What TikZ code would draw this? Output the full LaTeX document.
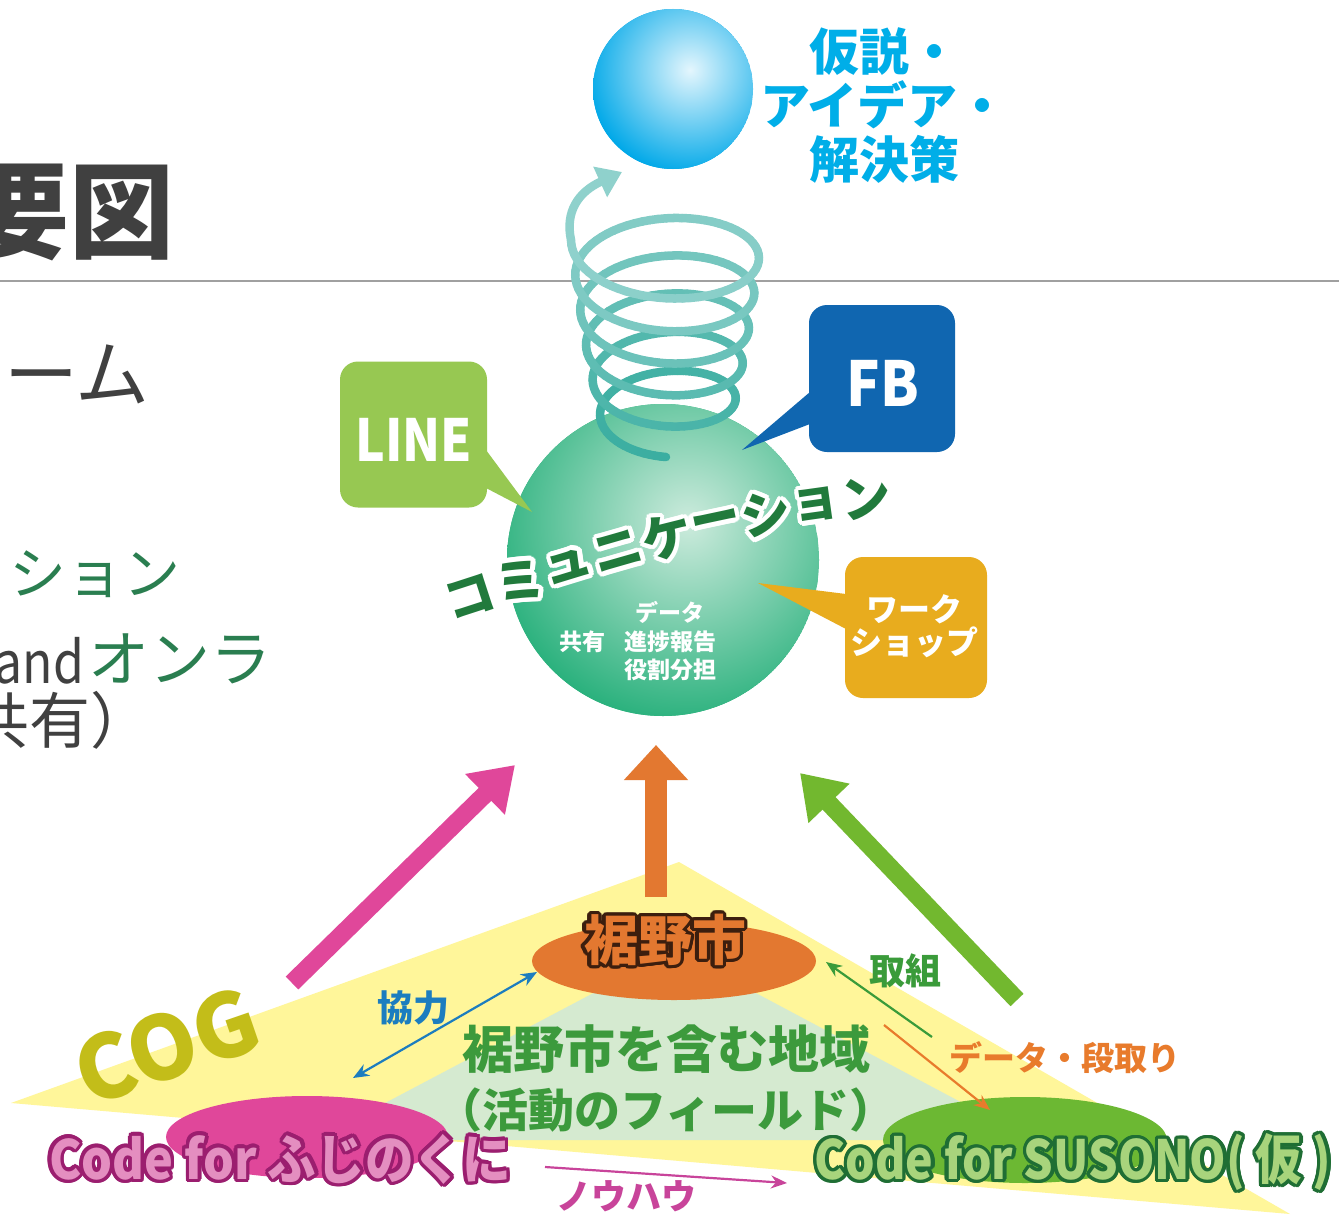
\documentclass[tikz,border=0pt]{standalone}
\usepackage{fontspec}
\usetikzlibrary{calc,arrows.meta,shapes.geometric}
\newfontfamily\jp{Noto Sans CJK JP}
\newfontfamily\jpn{Noto Sans CJK JP}[FakeStretch=0.9]
\newfontfamily\jpm{Noto Sans CJK JP}[FakeStretch=0.86]
\newcommand\fs[1]{\fontsize{#1}{#1}\selectfont}

\definecolor{inkgray}{HTML}{404040}
\definecolor{rulegray}{HTML}{A0A0A0}
\definecolor{leafgreen}{HTML}{2A7E50}
\definecolor{skyblue}{HTML}{00AEE8}
\definecolor{orbblue}{HTML}{00A8E8}
\definecolor{orbbluehi}{HTML}{E4F6FD}
\definecolor{orbgreen}{HTML}{27B07B}
\definecolor{orbglow}{HTML}{CDEBDD}
\definecolor{commgreen}{HTML}{217A3C}
\definecolor{linegreen}{HTML}{97C852}
\definecolor{fbblue}{HTML}{1066B0}
\definecolor{wsgold}{HTML}{E8AC1E}
\definecolor{springlo}{HTML}{3BAEA1}
\definecolor{springhi}{HTML}{8FD1CC}
\definecolor{fieldyellow}{HTML}{FFF69A}
\definecolor{fieldgreen}{HTML}{D5EAD0}
\definecolor{cityorange}{HTML}{E37830}
\definecolor{citybrown}{HTML}{3C1E0E}
\definecolor{cogpink}{HTML}{E0479A}
\definecolor{fujipink}{HTML}{E48EC0}
\definecolor{fujidark}{HTML}{9B1E6F}
\definecolor{susonogreen}{HTML}{6CB833}
\definecolor{susonolight}{HTML}{A8D47C}
\definecolor{susonodark}{HTML}{1F6E34}
\definecolor{bigarrowgreen}{HTML}{72B82F}
\definecolor{cogolive}{HTML}{C3BD19}
\definecolor{helpblue}{HTML}{1C7DBF}
\definecolor{workgreen}{HTML}{3A9B3A}
\definecolor{dataorange}{HTML}{E87B2C}
\definecolor{knowpink}{HTML}{C8449A}
\definecolor{regiongreen}{HTML}{3C9A3C}

% text with a coloured halo: name, position, style, halo colour, halo radius, text
\newcommand\haloed[6]{%
  \foreach \ha in {0,20,...,340}{%
    \node[#3,text=#4] at ($(#2)+(\ha:#5)$) {#6};}%
  \node[#3] (#1) at (#2) {#6};}

\begin{document}
\begin{tikzpicture}[x=1pt,y=-1pt,
  every node/.style={inner sep=0pt,outer sep=0pt},
  jpb/.style={font={\jp\bfseries\fs{#1}}},
  jpr/.style={font={\jp\fs{#1}}},
  jpmr/.style={font={\jpm\fs{#1}}},
  jpnb/.style={font={\jpn\bfseries\fs{#1}}},
  jpmb/.style={font={\jpm\bfseries\fs{#1}}},
  bubble/.style={rectangle,rounded corners=18pt,inner sep=0pt},
  spring/.style={line width=8.5pt,line cap=round},
  bigarrow/.style={line width=18pt,-{Triangle[length=42pt,width=54pt]}},
  thinarrow/.style={line width=2.2pt,-{Stealth[length=16pt,width=13pt]}},
]
\useasboundingbox (0,0) rectangle (1339,1215);
\fill[white] (0,0) rectangle (1339,1215);

% ---- heading and side notes ----
\node[jpb=105,text=inkgray] (title) at (70,212) {要図};
\draw[rulegray,line width=1.6pt] (0,281) coordinate (ruleL) -- (1339,281) coordinate (ruleR);
\node[jpr=74,text=inkgray] (team) at (77,374) {ーム};
\node[jpr=57,text=leafgreen] (comml) at (95,574) {ション};
\node[jpmr=58,text=inkgray,anchor=base east] (andw) at (84,683) {and};
\node[jpr=61,text=leafgreen] (onl) at (180,659) {オンラ};
\node[jpr=61,text=inkgray,anchor=west] (share) at (-31,720) {共有）};

% ---- goal orb ----
\coordinate (goal) at (673,89);
\begin{scope}
  \clip (goal) circle (80pt);
  \fill[orbblue] (goal) circle (80pt);
  \shade[inner color=orbbluehi,outer color=orbblue] (690,70) circle (105pt);
\end{scope}
\node[font={\jp\bfseries\fontsize{50}{54}\selectfont},text=skyblue,align=center] (ideas) at (884,106) {仮説・\\アイデア・\\解決策};

% ---- communication orb ----
\coordinate (orb) at (663,560);
\begin{scope}
  \clip (orb) circle (156pt);
  \fill[orbgreen] (orb) circle (156pt);
  \shade[inner color=orbglow,outer color=orbgreen] (688,522) circle (205pt);
\end{scope}

% ---- speech bubbles ----
\node[bubble,fill=linegreen,minimum width=147pt,minimum height=146pt] (linebox) at (413.5,434.5) {};
\fill[linegreen] (486,450) -- (532,512) -- (486,488) -- cycle;
\node[jpmb=58,text=white] (linetxt) at (414,440) {LINE};

\node[bubble,fill=fbblue,minimum width=146pt,minimum height=147pt] (fbbox) at (882,378.5) {};
\fill[fbblue] (810,392) -- (742,450) -- (810,424) -- cycle;
\node[jpnb=62,text=white] (fbtxt) at (883,383) {FB};

\node[bubble,fill=wsgold,minimum width=142pt,minimum height=141pt] (wsbox) at (916,627.5) {};
\fill[wsgold] (846,594) -- (758,583) -- (846,629) -- cycle;
\node[font={\jp\bfseries\fontsize{32}{33}\selectfont},text=white,align=center] (wstxt) at (914,626) {ワーク\\ショップ};

% ---- rising spiral ----
\foreach \i in {0,...,377}{%
  \pgfmathsetmacro\sa{\i/72}%
  \pgfmathsetmacro\sb{(\i+1)/72}%
  \pgfmathsetmacro\pc{100*\sa/5.25}%
  \draw[spring,color=springhi!\pc!springlo]
    ({666+(64+8*\sa-0.4*\sa*\sa)*cos(90+360*\sa)},{424-35*\sa+(33+4.5*\sa-0.25*\sa*\sa)*sin(90+360*\sa)}) --
    ({666+(64+8*\sb-0.4*\sb*\sb)*cos(90+360*\sb)},{424-35*\sb+(33+4.5*\sb-0.25*\sb*\sb)*sin(90+360*\sb)});
}
\coordinate (springtop) at (571,240);
\coordinate (springtip) at (622,172);
\draw[spring,springhi,-{Triangle[length=24pt,width=32pt]}] (springtop) .. controls (565,212) and (578,192) .. (springtip);

% ---- curved title on the orb ----
\foreach \ch/\cx/\cy/\cr in {コ/470/597/18,ミ/520/581/18,ュ/568/566/17,ニ/618/551/16,ケ/667/537/14,ー/716/525/12,シ/766/514/10,ョ/816/505/8,ン/866/498/7}{%
  \foreach \ha in {0,20,...,340}{%
    \node[jpb=50,rotate=\cr,text=white] at ($(\cx,\cy)+(\ha:4.5)$) {\ch};}}
\foreach \ch/\cx/\cy/\cr [count=\k] in {コ/470/597/18,ミ/520/581/18,ュ/568/566/17,ニ/618/551/16,ケ/667/537/14,ー/716/525/12,シ/766/514/10,ョ/816/505/8,ン/866/498/7}{%
  \node[jpb=50,rotate=\cr,text=commgreen] (comm\k) at (\cx,\cy) {\ch};}

\node[jpb=23,text=white] (data) at (670,612) {データ};
\node[jpb=23,text=white] (kyoyu) at (582,642) {共有};
\node[jpb=23,text=white] (shinchoku) at (670,642) {進捗報告};
\node[jpb=23,text=white] (yakuwari) at (670,670) {役割分担};

% ---- field of activity ----
\fill[fieldyellow] (679,862) coordinate (apex) -- (11,1103) -- (1290,1214) -- cycle;
\fill[fieldgreen] (675,950) -- (315,1140) -- (1032,1140) -- cycle;
\node[ellipse,fill=cityorange,minimum width=284pt,minimum height=78pt] (city) at (674,961) {};

% ---- contributions towards the orb ----
\coordinate (pinkfrom) at (292,983);  \coordinate (pinkto) at (515,765);
\coordinate (orfrom) at (656,897);    \coordinate (orto) at (656,745);
\coordinate (grfrom) at (1017,1000);  \coordinate (grto) at (800,773);
\draw[bigarrow,cogpink] (pinkfrom) -- (pinkto);
\draw[line width=22pt,cityorange,-{Triangle[length=35pt,width=62pt]}] (orfrom) -- (orto);
\draw[bigarrow,bigarrowgreen] (grfrom) -- (grto);

\node[ellipse,fill=cogpink,minimum width=282pt,minimum height=82pt] (fuji) at (307,1137) {};
\node[ellipse,fill=susonogreen,minimum width=284pt,minimum height=86pt] (susono) at (1025,1140) {};

% ---- labels ----
\node[jpb=88,rotate=19,text=cogolive] (cog) at (167,1046) {COG};
\haloed{citytxt}{665,940}{jpb=54,text=cityorange}{citybrown}{3.5}{裾野市}
\node[jpb=51,text=regiongreen] (region) at (666,1049) {裾野市を含む地域};
\node[jpb=46,text=regiongreen] (field) at (666,1110) {（活動のフィールド）};

\haloed{fujitxt}{280,1159}{jpnb=54,text=fujipink}{fujidark}{3.5}{Code for ふじのくに}
\haloed{susonotxt}{1073,1162}{jpmb=54,text=susonolight}{susonodark}{3.5}{Code for SUSONO( 仮 )}

\coordinate (helpA) at (353,1078); \coordinate (helpB) at (537,972);
\draw[line width=2.2pt,helpblue,{Stealth[length=16pt,width=13pt]}-{Stealth[length=16pt,width=13pt]}] (helpA) -- (helpB);
\node[jpb=36,text=helpblue] (kyoryoku) at (413,1008) {協力};

\coordinate (workA) at (932,1037); \coordinate (workB) at (826,962);
\draw[thinarrow,workgreen] (workA) -- (workB);
\node[jpb=36,text=workgreen] (torikumi) at (905,971) {取組};

\coordinate (dataA) at (884,1025); \coordinate (dataB) at (990,1110);
\draw[thinarrow,dataorange] (dataA) -- (dataB);
\node[jpb=33,text=dataorange] (dandori) at (1065,1058) {データ・段取り};

\coordinate (knowA) at (545,1167); \coordinate (knowB) at (787,1183);
\draw[thinarrow,knowpink] (knowA) -- (knowB);
\node[jpb=35,text=knowpink] (knowhow) at (626,1196) {ノウハウ};
\end{tikzpicture}
\end{document}
